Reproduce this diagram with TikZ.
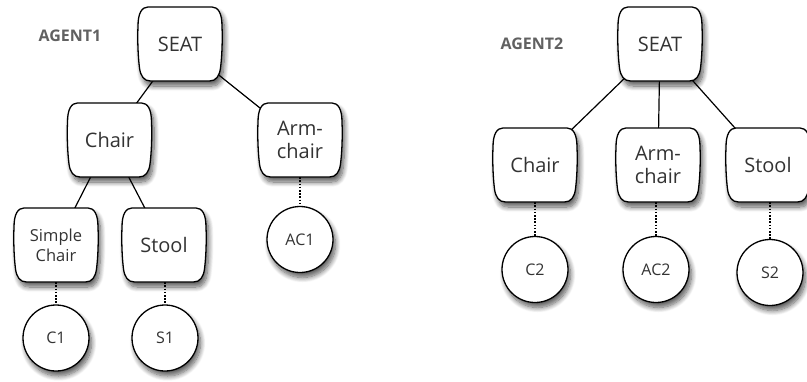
\documentclass[tikz,border=0pt]{standalone}
\usepackage{fontspec}
\setmainfont{Open Sans}
\usetikzlibrary{shadows.blur}
\pgfdeclarelayer{conn}
\pgfsetlayers{conn,main}

\tikzset{
  softshadow/.style={blur shadow={shadow xshift=2.5pt, shadow yshift=-5pt,
      shadow blur radius=5pt, shadow blur steps=10, shadow opacity=65}},
  catbox/.style={rectangle, minimum width=85pt, minimum height=74pt,
      inner sep=0pt, align=center, text=black!80,
      font=\fontsize{20}{23}\selectfont},
  smallcat/.style={catbox, font=\fontsize{16.5}{20}\selectfont},
  inst/.style={circle, draw, line width=1.3pt, fill=white, minimum size=66pt,
      inner sep=0pt, text=black!80, font=\fontsize{16}{18}\selectfont, softshadow},
  agent/.style={font=\bfseries\fontsize{16}{18}\selectfont, text=black!62},
  link/.style={line width=1.2pt},
  dotlink/.style={line width=1.4pt, dash pattern=on 1.6pt off 1.6pt},
  outline/.style={draw, line width=1.3pt, fill=white, softshadow},
}

% outline of a category box centred at a point
\newcommand\catshape[1]{%
  \path[outline, shift={(#1)}]
    (-32,-37) -- (32,-37)
    .. controls (38,-37) and (42,-31) .. (42,-18)
    .. controls (42.6,-4) and (42,12) .. (40.5,24)
    .. controls (39.5,32) and (36,37) .. (29.5,37)
    -- (-29.5,37)
    .. controls (-36,37) and (-39.5,32) .. (-40.5,24)
    .. controls (-42,12) and (-42.6,-4) .. (-42,-18)
    .. controls (-42,-31) and (-38,-37) .. (-32,-37) -- cycle;}

\begin{document}
\begin{tikzpicture}[x=1pt, y=-1pt]
\useasboundingbox (0,0) rectangle (807,381);

% shadowed outlines of the category boxes
\catshape{180,44}
\catshape{109.5,140}
\catshape{300,140}
\catshape{56,245}
\catshape{164,245}
\catshape{660,44}
\catshape{535,165}
\catshape{658,165}
\catshape{768,165}

% instances
\node[inst] (c1) at (56,338) {C1};
\node[inst] (s1) at (165,338) {S1};
\node[inst] (ac1) at (300,239.5) {AC1};
\node[inst] (c2) at (535,269.5) {C2};
\node[inst] (ac2) at (656,269.5) {AC2};
\node[inst] (s2) at (770,272.5) {S2};

% first agent
\node[agent] (ag1) at (70,36) {AGENT1};
\node[catbox] (seat1) at (180,44) {SEAT};
\node[catbox] (chair1) at (109.5,140) {Chair};
\node[catbox] (arm1) at (300,140) {Arm-\\chair};
\node[smallcat] (simple1) at (56,245) {Simple\\Chair};
\node[catbox] (stool1) at (164,245) {Stool};

% second agent
\node[agent] (ag2) at (532,44) {AGENT2};
\node[catbox] (seat2) at (660,44) {SEAT};
\node[catbox] (chair2) at (535,165) {Chair};
\node[catbox] (arm2) at (658,165) {Arm-\\chair};
\node[catbox] (stool2) at (768,165) {Stool};

% hierarchy links, behind the boxes
\begin{pgfonlayer}{conn}
  \draw[link] (seat1.center) -- (chair1.center);
  \draw[link] (seat1.center) -- (arm1.center);
  \draw[link] (chair1.center) -- (simple1.center);
  \draw[link] (chair1.center) -- (stool1.center);
  \draw[link] (seat2.center) -- (chair2.center);
  \draw[link] (seat2.center) -- (arm2.center);
  \draw[link] (seat2.center) -- (stool2.center);
\end{pgfonlayer}

% instance links
\draw[dotlink] (simple1.south) -- (c1.north);
\draw[dotlink] (s1.north |- stool1.south) -- (s1.north);
\draw[dotlink] (arm1.south) -- (ac1.north);
\draw[dotlink] (chair2.south) -- (c2.north);
\draw[dotlink] (ac2.north |- arm2.south) -- (ac2.north);
\draw[dotlink] (s2.north |- stool2.south) -- (s2.north);
\end{tikzpicture}
\end{document}
